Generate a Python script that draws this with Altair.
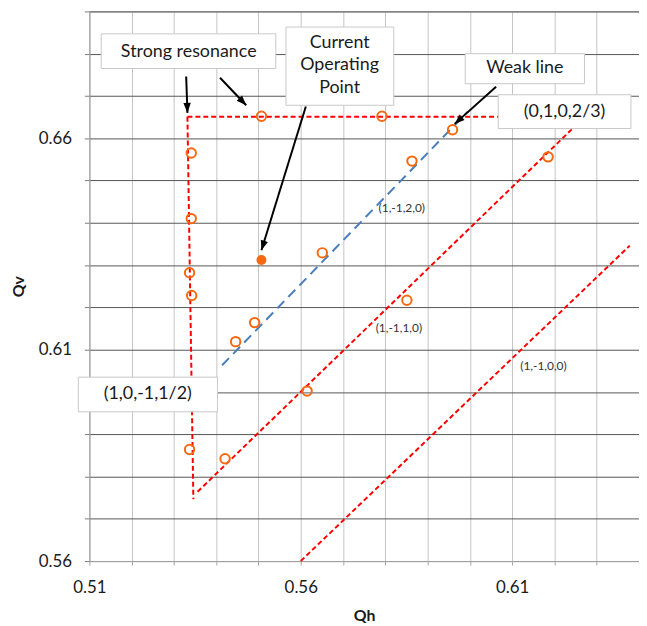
import math
import altair as alt
import pandas as pd

# ---------------- data ----------------
# measured working points (Qh, Qv) - hollow markers
pt_qh = [0.5507, 0.5792, 0.5959, 0.5341, 0.5863, 0.6185, 0.5341, 0.5651,
         0.5337, 0.5342, 0.5851, 0.5491, 0.5446, 0.5615, 0.5337, 0.5421]
pt_qv = [0.6652, 0.6652, 0.6620, 0.6565, 0.6546, 0.6556, 0.6410, 0.6329,
         0.6282, 0.6228, 0.6217, 0.6164, 0.6119, 0.6002, 0.5864, 0.5842]
# current operating point (filled marker)
cur_qh = [0.5507]
cur_qv = [0.6312]

# resonance lines (two end points each)
red_id = ["h", "h", "v", "v", "d1", "d1", "d0", "d0"]
red_qh = [0.5332, 0.6200, 0.5332, 0.5346, 0.5356, 0.6245, 0.5600, 0.6378]
red_qv = [0.6651, 0.6651, 0.6651, 0.5746, 0.5764, 0.6625, 0.5600, 0.6346]
blue_qh = [0.5414, 0.5995]
blue_qv = [0.6063, 0.6663]

# boxed annotations
box_text = ["Strong resonance", "Current\nOperating\nPoint", "Weak line",
            "(0,1,0,2/3)", "(1,0,-1,1/2)"]
box_x1 = [0.5128, 0.5565, 0.5989, 0.6067, 0.5074]
box_x2 = [0.5541, 0.5820, 0.6271, 0.6381, 0.5403]
box_y1 = [0.6847, 0.6863, 0.6800, 0.6703, 0.6035]
box_y2 = [0.6765, 0.6678, 0.6729, 0.6623, 0.5953]
box_tx = [0.5335, 0.5692, 0.6130, 0.6224, 0.5238]
box_ty = [0.6805, 0.6826, 0.6765, 0.6663, 0.5994]

# plain line labels
lab_text = ["(1,-1,2,0)", "(1,-1,1,0)", "(1,-1,0,0)"]
lab_qh = [0.5839, 0.5832, 0.6174]
lab_qv = [0.6436, 0.6150, 0.6061]

# arrows: start -> tip
arr_x0 = [0.5329, 0.5409, 0.5612, 0.6062]
arr_y0 = [0.6746, 0.6743, 0.6675, 0.6722]
arr_x1 = [0.5332, 0.5471, 0.5507, 0.5964]
arr_y1 = [0.6660, 0.6678, 0.6335, 0.6634]

# ---------------- frames ----------------
pts = pd.DataFrame({"x": pt_qh, "y": pt_qv})
cur = pd.DataFrame({"x": cur_qh, "y": cur_qv})
red = pd.DataFrame({"id": red_id, "x": red_qh, "y": red_qv,
                    "o": list(range(len(red_id)))})
blue = pd.DataFrame({"x": blue_qh, "y": blue_qv, "o": [0, 1]})
boxes = pd.DataFrame({"x": box_x1, "x2": box_x2, "y": box_y1, "y2": box_y2})
btxt = pd.DataFrame({"x": box_tx, "y": box_ty, "t": box_text})
labs = pd.DataFrame({"x": lab_qh, "y": lab_qv, "t": lab_text})

arr_rows = []
head_rows = []
for i in range(len(arr_x0)):
    arr_rows.append({"id": i, "o": 0, "x": arr_x0[i], "y": arr_y0[i]})
    arr_rows.append({"id": i, "o": 1, "x": arr_x1[i], "y": arr_y1[i]})
    ang = math.degrees(math.atan2(arr_x1[i] - arr_x0[i], arr_y1[i] - arr_y0[i])) % 360
    head_rows.append({"x": arr_x1[i], "y": arr_y1[i], "a": ang})
arrows = pd.DataFrame(arr_rows)
heads = pd.DataFrame(head_rows)

# ---------------- scales / axes ----------------
FONT = "Lato"
xs = alt.Scale(domain=[0.51, 0.64], nice=False, zero=False)
ys = alt.Scale(domain=[0.56, 0.69], nice=False, zero=False)
xvals = [round(0.51 + 0.01 * i, 2) for i in range(14)]
yvals = [round(0.56 + 0.01 * i, 2) for i in range(14)]

xaxis = alt.Axis(values=xvals, title="Qh",
                 labelExpr="(round(datum.value*100) - 51) % 5 == 0 ? format(datum.value, '.2f') : ''",
                 labelFlush=False,
                 grid=True, gridColor="#c4c4c4", gridWidth=1,
                 domainColor="#a6a6a6", tickColor="#a6a6a6", tickSize=4,
                 labelFont=FONT, labelFontSize=17, labelColor="#1a1a1a", labelPadding=15,
                 titleFont=FONT, titleFontSize=16, titleFontWeight="bold", titleColor="#1a1a1a",
                 titlePadding=12)
yaxis = alt.Axis(values=yvals, title="Qv",
                 labelExpr="(round(datum.value*100) - 56) % 5 == 0 ? format(datum.value, '.2f') : ''",
                 labelFlush=False,
                 grid=True, gridColor="#555555", gridWidth=1,
                 domainColor="#a6a6a6", tickColor="#7a7a7a", tickSize=5,
                 labelFont=FONT, labelFontSize=17, labelColor="#1a1a1a", labelPadding=13,
                 titleFont=FONT, titleFontSize=16, titleFontWeight="bold", titleColor="#1a1a1a",
                 titlePadding=12)

X = alt.X("x:Q", scale=xs, axis=xaxis)
Y = alt.Y("y:Q", scale=ys, axis=yaxis)

ORANGE = "#f7690e"

red_layer = alt.Chart(red).mark_line(color="#ff0000", strokeWidth=2, strokeDash=[5, 3]).encode(
    x=X, y=Y, detail="id:N", order="o:Q")
blue_layer = alt.Chart(blue).mark_line(color="#4a7ebb", strokeWidth=2, strokeDash=[10, 6]).encode(
    x=X, y=Y, order="o:Q")
pts_layer = alt.Chart(pts).mark_point(shape="circle", filled=False, color=ORANGE,
                                      strokeWidth=2, size=90, opacity=1).encode(x=X, y=Y)
cur_layer = alt.Chart(cur).mark_point(shape="circle", filled=True, color=ORANGE,
                                      size=100, opacity=1).encode(x=X, y=Y)
lab_layer = alt.Chart(labs).mark_text(font=FONT, fontSize=12, color="#333333").encode(
    x=X, y=Y, text="t:N")
arrow_layer = alt.Chart(arrows).mark_line(color="#000000", strokeWidth=2).encode(
    x=X, y=Y, detail="id:N", order="o:Q")
head_layer = alt.Chart(heads).mark_point(shape="M0,0 L0.75,2 L-0.75,2 Z", filled=True,
                                         color="#000000", size=100, opacity=1).encode(
    x=X, y=Y, angle=alt.Angle("a:Q", scale=None))
box_layer = alt.Chart(boxes).mark_rect(fill="#ffffff", stroke="#c8c8c8", strokeWidth=1).encode(
    x=X, x2="x2:Q", y=Y, y2="y2:Q")
btxt_layer = alt.Chart(btxt).mark_text(font=FONT, fontSize=18, color="#1a1a1a",
                                       lineBreak="\n", lineHeight=23).encode(
    x=X, y=Y, text="t:N")

chart = alt.layer(
    red_layer, blue_layer, pts_layer, cur_layer, lab_layer,
    arrow_layer, head_layer, box_layer, btxt_layer
).properties(
    width=554, height=554,
    autosize=alt.AutoSizeParams(type="none"),
    padding={"left": 82, "top": 1, "right": 0, "bottom": 62},
    background="#ffffff",
).configure_view(stroke="#a6a6a6", strokeWidth=1)

chart.save("out.html", embed_options={"renderer": "svg", "actions": False})
